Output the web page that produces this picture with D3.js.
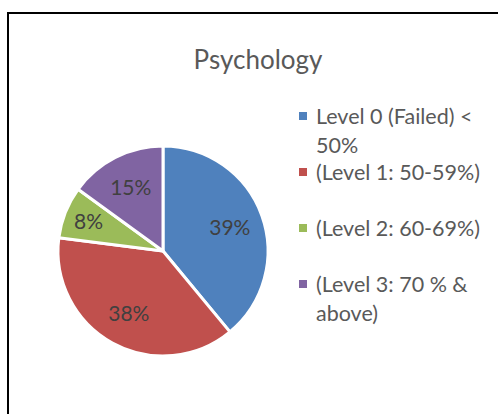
<!DOCTYPE html>
<html>
<head>
<meta charset="utf-8">
<script src="https://cdn.jsdelivr.net/npm/d3@7"></script>
<style>
  body { margin: 0; background: #fff; }
  text { font-family: Lato, "Open Sans", sans-serif; }
</style>
</head>
<body>
<div id="viz"></div>
<script>
// chart data
const title = "Psychology";
const categories = ["Level 0 (Failed) < 50%", "(Level 1: 50-59%)", "(Level 2: 60-69%)", "(Level 3: 70 % & above)"];
const values = [39, 38, 8, 15];
const colors = ["#4F81BD", "#C0504D", "#9BBB59", "#8064A2"];

const width = 498, height = 414;

const svg = d3.select("#viz")
    .append("svg")
    .attr("width", width)
    .attr("height", height);

// chart frame (left and top edges show, the rest is cut off)
svg.append("path")
    .attr("d", `M8,${height} L8,13 L${width},13`)
    .attr("fill", "none")
    .attr("stroke", "#000")
    .attr("stroke-width", 2);

svg.append("text")
    .attr("x", 258)
    .attr("y", 69)
    .attr("text-anchor", "middle")
    .attr("font-size", 26)
    .attr("fill", "#595959")
    .text(title);

// pie
const cx = 163, cy = 251, radius = 105;
const pie = d3.pie().sort(null).value(d => d);
const arcs = pie(values);
const arc = d3.arc().innerRadius(0).outerRadius(radius);
const total = d3.sum(values);

const g = svg.append("g").attr("transform", `translate(${cx},${cy})`);

g.selectAll("path")
    .data(arcs)
    .enter()
    .append("path")
    .attr("d", arc)
    .attr("fill", (d, i) => colors[i])
    .attr("stroke", "#fff")
    .attr("stroke-width", 3)
    .attr("stroke-linejoin", "round");

const labelArc = d3.arc().innerRadius(71).outerRadius(71);
const smallLabelArc = d3.arc().innerRadius(80).outerRadius(80);

g.selectAll("text.lbl")
    .data(arcs)
    .enter()
    .append("text")
    .attr("class", "lbl")
    .attr("transform", d => {
        const c = (d.value / total < 0.1 ? smallLabelArc : labelArc).centroid(d);
        return `translate(${c[0]},${c[1]})`;
    })
    .attr("dy", "0.36em")
    .attr("text-anchor", "middle")
    .attr("font-size", 21)
    .attr("fill", "#404040")
    .text(d => Math.round(d.value / total * 100) + "%");

// legend
const legend = svg.append("g");
const legendX = 299, legendY = 124, legendStep = 56, lineH = 28.5, maxW = 180;

categories.forEach((name, i) => {
    const y = legendY + i * legendStep;
    legend.append("rect")
        .attr("x", legendX)
        .attr("y", y - 12)
        .attr("width", 8)
        .attr("height", 8)
        .attr("fill", colors[i]);

    const t = legend.append("text")
        .attr("x", legendX + 17)
        .attr("y", y)
        .attr("font-size", 21.5)
        .attr("fill", "#595959");

    // simple word wrap
    const words = name.split(" ");
    let line = [];
    let tspan = t.append("tspan").attr("x", legendX + 17).attr("y", y);
    let n = 0;
    words.forEach(w => {
        line.push(w);
        tspan.text(line.join(" "));
        if (tspan.node().getComputedTextLength() > maxW && line.length > 1) {
            line.pop();
            tspan.text(line.join(" "));
            line = [w];
            n++;
            tspan = t.append("tspan").attr("x", legendX + 17).attr("y", y + n * lineH).text(w);
        }
    });
});
</script>
</body>
</html>
